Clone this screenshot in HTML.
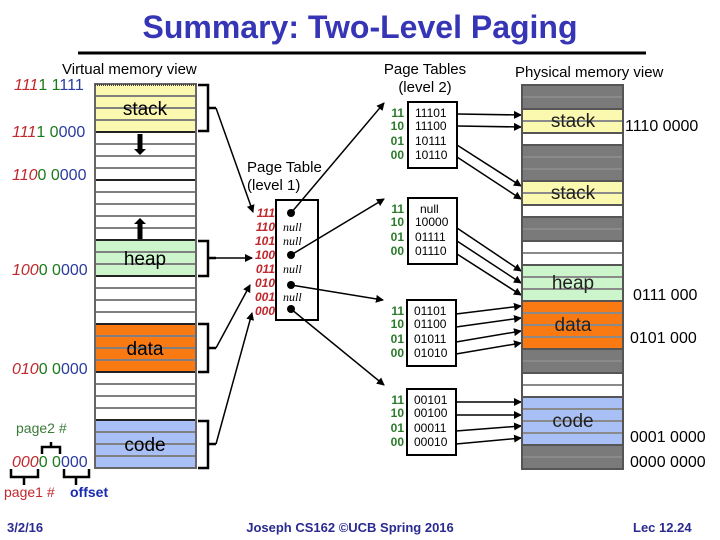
<!DOCTYPE html>
<html><head><meta charset="utf-8"><style>
html,body{margin:0;padding:0;background:#fff}
svg{display:block;font-family:"Liberation Sans",sans-serif}
</style></head><body>
<svg width="720" height="540" viewBox="0 0 720 540" xmlns="http://www.w3.org/2000/svg">
<defs>
<marker id="a" markerWidth="8" markerHeight="8" refX="7" refY="4" orient="auto" markerUnits="userSpaceOnUse">
<path d="M0,0 L8,4 L0,8 z" fill="#000"/></marker>
</defs>
<text x="360" y="38" text-anchor="middle" font-size="32" font-weight="bold" fill="#3535b5">Summary: Two-Level Paging</text>
<line x1="78" y1="53" x2="646" y2="53" stroke="#000" stroke-width="3"/>
<text x="62" y="74" font-size="15">Virtual memory view</text>
<text x="425" y="74" font-size="15" text-anchor="middle">Page Tables</text>
<text x="425" y="92" font-size="15" text-anchor="middle">(level 2)</text>
<text x="515" y="77" font-size="15">Physical memory view</text>

<!-- virtual memory -->
<rect x="95" y="84" width="101" height="384" fill="#fff"/>
<rect x="95" y="84" width="101" height="48" fill="#fbf8b0"/>
<rect x="95" y="240" width="101" height="36" fill="#ccf5cc"/>
<rect x="95" y="324" width="101" height="48" fill="#f97a12"/>
<rect x="95" y="420" width="101" height="48" fill="#a8c0f5"/>
<path d="M95 96h101M95 108h101M95 120h101M95 144h101M95 156h101M95 168h101M95 192h101M95 204h101M95 216h101M95 228h101M95 252h101M95 264h101M95 288h101M95 300h101M95 312h101M95 336h101M95 348h101M95 360h101M95 384h101M95 396h101M95 408h101M95 432h101M95 444h101M95 456h101" stroke="#808080" stroke-width="2"/>
<path d="M95 132h101M95 180h101M95 240h101M95 276h101M95 324h101M95 372h101M95 420h101" stroke="#222" stroke-width="2"/>
<rect x="95" y="84" width="101" height="384" fill="none" stroke="#666" stroke-width="2"/>
<line x1="95" y1="85" x2="196" y2="85" stroke="#444" stroke-width="2" stroke-dasharray="1 1"/>
<text x="145" y="115" font-size="19" text-anchor="middle">stack</text>
<text x="145" y="265" font-size="19" text-anchor="middle">heap</text>
<text x="145" y="355" font-size="19" text-anchor="middle">data</text>
<text x="145" y="451" font-size="19" text-anchor="middle">code</text>
<line x1="140" y1="134" x2="140" y2="150" stroke="#000" stroke-width="5"/><path d="M134 149h12l-6 6z" fill="#000"/>
<line x1="140" y1="223" x2="140" y2="239" stroke="#000" stroke-width="5"/><path d="M134 224h12l-6 -6z" fill="#000"/>
<!-- brackets -->
<g fill="none" stroke="#000" stroke-width="2.5">
<path d="M198 85h10v46h-10M208 108h8"/>
<path d="M198 241h10v35h-10M208 258h8"/>
<path d="M198 324h10v48h-10M208 348h8"/>
<path d="M198 421h10v47h-10M208 444h8"/>
</g>
<g stroke="#000" stroke-width="1.5" fill="none" marker-end="url(#a)">
<path d="M216 108L253 212"/>
<path d="M216 258L252 258"/>
<path d="M216 348L250 285"/>
<path d="M216 444L252 313"/>
</g>

<!-- left labels -->
<g font-size="16">
<text x="14" y="90"><tspan fill="#c0282d" font-style="italic">111</tspan><tspan fill="#1a7a1a">1 1</tspan><tspan fill="#2a3aa0">111</tspan></text>
<text x="12" y="137"><tspan fill="#c0282d" font-style="italic">111</tspan><tspan fill="#1a7a1a">1 0</tspan><tspan fill="#2a3aa0">000</tspan></text>
<text x="12" y="180"><tspan fill="#c0282d" font-style="italic">110</tspan><tspan fill="#1a7a1a">0 0</tspan><tspan fill="#2a3aa0">000</tspan></text>
<text x="12" y="275"><tspan fill="#c0282d" font-style="italic">100</tspan><tspan fill="#1a7a1a">0 0</tspan><tspan fill="#2a3aa0">000</tspan></text>
<text x="12" y="374"><tspan fill="#c0282d" font-style="italic">010</tspan><tspan fill="#1a7a1a">0 0</tspan><tspan fill="#2a3aa0">000</tspan></text>
<text x="12" y="467"><tspan fill="#c0282d" font-style="italic">000</tspan><tspan fill="#1a7a1a">0 0</tspan><tspan fill="#2a3aa0">000</tspan></text>
</g>
<g font-size="14">
<text x="16" y="433" fill="#3a7a3a">page2 #</text>
<text x="4" y="497" fill="#c0282d">page1 #</text>
<text x="70" y="497" fill="#1a2ab0" font-weight="bold">offset</text>
</g>
<g fill="none" stroke="#000" stroke-width="2.5">
<path d="M42 454v-7h18v7M51 447v-5"/>
<path d="M11 469v8h27v-8M24 477v8"/>
<path d="M64 469v8h25v-8M76 477v8"/>
</g>

<!-- level 1 -->
<text x="247" y="172" font-size="15">Page Table</text>
<text x="247" y="190" font-size="15">(level 1)</text>
<rect x="276" y="200" width="42" height="120" fill="#fff" stroke="#000" stroke-width="2"/>
<g font-size="12" font-weight="bold" font-style="italic" fill="#c0282d" text-anchor="end">
<text x="275" y="217">111</text><text x="275" y="231">110</text><text x="275" y="245">101</text><text x="275" y="259">100</text>
<text x="275" y="273">011</text><text x="275" y="287">010</text><text x="275" y="301">001</text><text x="275" y="315">000</text>
</g>
<g font-size="12" font-style="italic" font-family="Liberation Serif,serif">
<text x="283" y="231">null</text><text x="283" y="245">null</text><text x="283" y="273">null</text><text x="283" y="301">null</text>
</g>
<g fill="#000"><circle cx="291" cy="213" r="4"/><circle cx="291" cy="255" r="4"/><circle cx="291" cy="285" r="4"/><circle cx="291" cy="309" r="4"/></g>
<g stroke="#000" stroke-width="1.5" fill="none" marker-end="url(#a)">
<path d="M291 213L384 103"/><path d="M291 255L384 199"/><path d="M291 285L383 300"/><path d="M291 309L384 385"/>
</g>

<!-- level 2 tables -->
<g font-size="12">
<rect x="408" y="102" width="49" height="66" fill="#fff" stroke="#000" stroke-width="2"/>
<text x="415" y="117">11101</text><text x="415" y="130">11100</text><text x="415" y="145">10111</text><text x="415" y="159">10110</text>
<rect x="408" y="198" width="49" height="66" fill="#fff" stroke="#000" stroke-width="2"/>
<text x="420" y="213">null</text><text x="415" y="226">10000</text><text x="415" y="241">01111</text><text x="415" y="255">01110</text>
<rect x="407" y="300" width="49" height="66" fill="#fff" stroke="#000" stroke-width="2"/>
<text x="414" y="315">01101</text><text x="414" y="328">01100</text><text x="414" y="343">01011</text><text x="414" y="357">01010</text>
<rect x="407" y="389" width="49" height="66" fill="#fff" stroke="#000" stroke-width="2"/>
<text x="414" y="404">00101</text><text x="414" y="417">00100</text><text x="414" y="432">00011</text><text x="414" y="446">00010</text>
</g>
<g font-size="12" font-weight="bold" fill="#2a7a2a" text-anchor="end">
<text x="404" y="117">11</text><text x="404" y="130">10</text><text x="404" y="145">01</text><text x="404" y="159">00</text>
<text x="404" y="213">11</text><text x="404" y="226">10</text><text x="404" y="241">01</text><text x="404" y="255">00</text>
<text x="404" y="315">11</text><text x="404" y="328">10</text><text x="404" y="343">01</text><text x="404" y="357">00</text>
<text x="404" y="404">11</text><text x="404" y="417">10</text><text x="404" y="432">01</text><text x="404" y="446">00</text>
</g>
<g stroke="#000" stroke-width="1.5" fill="none" marker-end="url(#a)">
<path d="M457 114L521 115"/><path d="M457 126L521 127"/><path d="M457 145L521 186"/><path d="M457 157L521 199"/>
<path d="M457 228L521 271"/><path d="M457 241L521 283"/><path d="M457 254L521 295"/>
<path d="M456 314L521 306"/><path d="M456 327L521 318"/><path d="M456 342L521 331"/><path d="M456 354L521 343"/>
<path d="M456 402L521 402"/><path d="M456 415L521 415"/><path d="M456 431L521 426"/><path d="M456 444L521 438"/>
</g>

<!-- physical memory -->
<rect x="522" y="85" width="101" height="24" fill="#7a7a7a"/>
<rect x="522" y="109" width="101" height="24" fill="#fbf8b0"/>
<rect x="522" y="133" width="101" height="12" fill="#fff"/>
<rect x="522" y="145" width="101" height="36" fill="#7a7a7a"/>
<rect x="522" y="181" width="101" height="24" fill="#fbf8b0"/>
<rect x="522" y="205" width="101" height="12" fill="#fff"/>
<rect x="522" y="217" width="101" height="24" fill="#7a7a7a"/>
<rect x="522" y="241" width="101" height="24" fill="#fff"/>
<rect x="522" y="265" width="101" height="36" fill="#ccf5cc"/>
<rect x="522" y="301" width="101" height="48" fill="#f97a12"/>
<rect x="522" y="349" width="101" height="24" fill="#7a7a7a"/>
<rect x="522" y="373" width="101" height="24" fill="#fff"/>
<rect x="522" y="397" width="101" height="48" fill="#a8c0f5"/>
<rect x="522" y="445" width="101" height="24" fill="#7a7a7a"/>
<path d="M522 97h101M522 121h101M522 157h101M522 169h101M522 193h101M522 229h101M522 253h101M522 277h101M522 289h101M522 313h101M522 325h101M522 337h101M522 361h101M522 385h101M522 409h101M522 421h101M522 433h101M522 457h101" stroke="#8a8a8a" stroke-width="2"/>
<path d="M522 109h101M522 133h101M522 145h101M522 181h101M522 205h101M522 217h101M522 241h101M522 265h101M522 301h101M522 349h101M522 373h101M522 397h101M522 445h101" stroke="#555" stroke-width="2"/>
<rect x="522" y="85" width="101" height="384" fill="none" stroke="#555" stroke-width="2"/>
<g font-size="19" text-anchor="middle" fill="#222">
<text x="573" y="127">stack</text><text x="573" y="199">stack</text><text x="573" y="289">heap</text><text x="573" y="331">data</text><text x="573" y="427">code</text>
</g>
<g font-size="16">
<text x="625" y="131">1110 0000</text>
<text x="633" y="300">0111 000</text>
<text x="630" y="343">0101 000</text>
<text x="630" y="442">0001 0000</text>
<text x="630" y="467">0000 0000</text>
</g>

<g font-size="13" font-weight="bold" fill="#2a2a90">
<text x="7" y="532">3/2/16</text>
<text x="350" y="532" text-anchor="middle">Joseph CS162 ©UCB Spring 2016</text>
<text x="633" y="532">Lec 12.24</text>
</g>
</svg>
</body></html>
